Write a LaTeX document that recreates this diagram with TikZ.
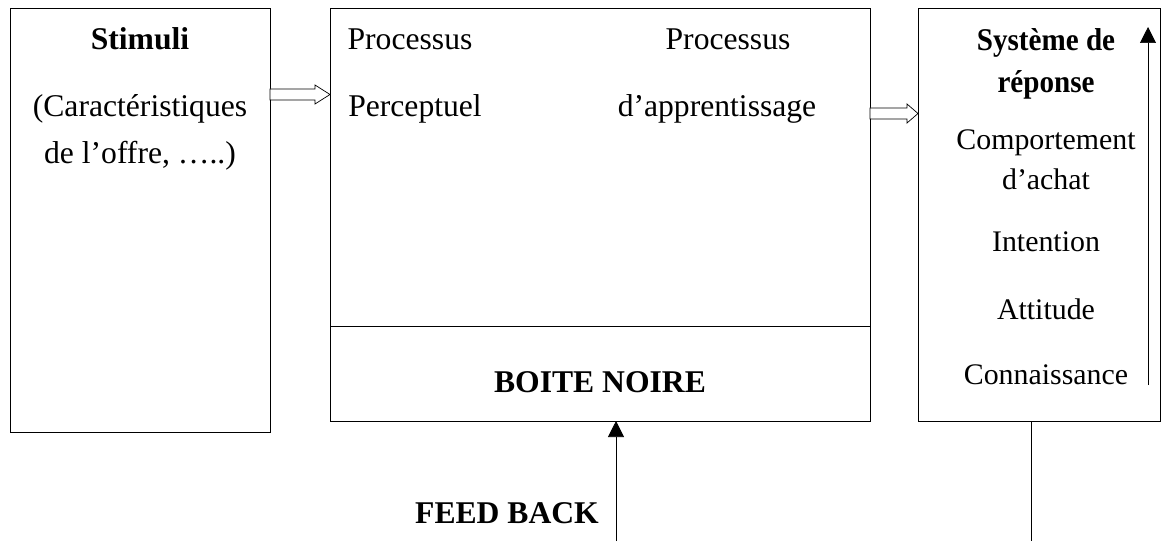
\documentclass[tikz,border=0pt]{standalone}
\usepackage{fontspec}
\setmainfont{Liberation Serif}
\newfontfamily\condserif{Liberation Serif}[FakeStretch=0.92]
\usetikzlibrary{arrows.meta}

\begin{document}
\begin{tikzpicture}[
  lbl/.style={anchor=base,font=\fontsize{18}{20}\selectfont},
  blbl/.style={lbl,font=\fontsize{18}{20}\selectfont\bfseries},
  small/.style={anchor=base,font=\fontsize{17}{19}\selectfont},
  bsmall/.style={anchor=base,font=\fontsize{18}{20}\condserif\bfseries},
  tip/.style={-{Triangle[width=0.32cm,length=0.32cm]}}
]
\useasboundingbox (0,0) rectangle (23.42,10.82);

% the three boxes
\draw  (0.2,10.66) rectangle (5.4,2.18);
\draw  (6.6,10.66) rectangle (17.4,2.40);
\draw  (6.6,4.30) -- (17.4,4.30);
\draw  (18.36,10.66) rectangle (23.2,2.40);

\node[blbl] (stim) at (2.8,9.82) {Stimuli};
\node[lbl] (car1) at (2.8,8.48) {(Caractéristiques};
\node[lbl] (car2) at (2.8,7.54) {de l’offre, …..)};

\node[lbl] (pr1) at (8.2,9.82) {Processus};
\node[lbl] (perc) at (8.3,8.48) {Perceptuel};
\node[lbl] (pr2) at (14.56,9.82) {Processus};
\node[lbl] (appr) at (14.34,8.48) {d’apprentissage};
\node[blbl] (bn) at (12.0,2.98) {BOITE NOIRE};

\node[bsmall] (sys1) at (20.92,9.80) {Système de};
\node[bsmall] (sys2) at (20.92,8.96) {réponse};
\node[small] (comp1) at (20.92,7.82) {Comportement};
\node[small] (comp2) at (20.92,7.04) {d’achat};
\node[small] (int) at (20.92,5.78) {Intention};
\node[small] (att) at (20.92,4.44) {Attitude};
\node[small] (con) at (20.92,3.14) {Connaissance};

\node[blbl] (fb) at (10.14,0.36) {FEED BACK};

% hollow arrows between boxes
\coordinate (v1) at (5.4,8.93);
\coordinate (v2) at (6.6,8.93);
\coordinate (v3) at (17.4,8.55);
\coordinate (v4) at (18.36,8.55);
\draw[fill=white] (v1) ++(0,0.11) -- ++(0.9,0) -- ++(0,0.08) -- (v2)
  -- ++(-0.3,-0.19) -- ++(0,0.08) -- ++(-0.9,0) -- cycle;
\draw[fill=white] (v3) ++(0,0.11) -- ++(0.74,0) -- ++(0,0.08) -- (v4)
  -- ++(-0.22,-0.19) -- ++(0,0.08) -- ++(-0.74,0) -- cycle;

% feed back and response arrows
\coordinate (v5) at (12.32,0);
\coordinate (v6) at (12.32,2.40);
\coordinate (v7) at (22.96,3.12);
\coordinate (v8) at (22.96,10.28);
\coordinate (v9) at (20.62,2.40);
\coordinate (v10) at (20.62,0);
\draw[tip] (v5) -- (v6);
\draw[tip] (v7) -- (v8);
\draw (v9) -- (v10);
\end{tikzpicture}
\end{document}
